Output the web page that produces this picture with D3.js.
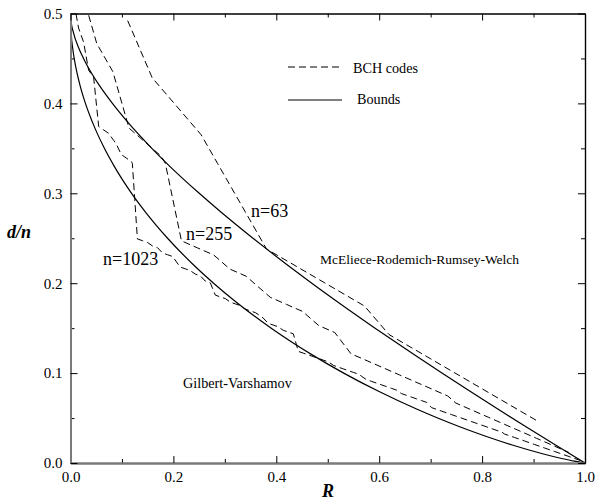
<!DOCTYPE html>
<html>
<head>
<meta charset="utf-8">
<script src="https://cdn.jsdelivr.net/npm/d3@7"></script>
<style>
  html, body { margin: 0; padding: 0; background: #fff; }
  svg { display: block; }
  text { font-family: "Liberation Serif", "Times New Roman", serif; fill: #000; }
</style>
</head>
<body>
<svg id="chart" width="596" height="500"></svg>
<script>
// Primitive narrow-sense BCH codes: error-correcting capability t and dimension k
const bch63N = 63;
const bch63T = [15, 13, 11, 10, 7, 6, 5, 4, 3, 2, 1];
const bch63K = [7, 10, 16, 18, 24, 30, 36, 39, 45, 51, 57];

const bch255N = 255;
const bch255T = [63, 59, 55, 47, 45, 43, 42, 31, 30, 29, 27, 26, 25, 23, 22, 21, 19, 18,
                 15, 14, 13, 12, 11, 10, 9, 8, 7, 6, 5, 4, 3, 2, 1];
const bch255K = [9, 13, 21, 29, 37, 45, 47, 55, 63, 71, 79, 87, 91, 99, 107, 115, 123, 131,
                 139, 147, 155, 163, 171, 179, 187, 191, 199, 207, 215, 223, 231, 239, 247];

const bch1023N = 1023;
const bch1023T = [255, 247, 239, 223, 219, 191, 189, 187, 183, 181, 175, 173, 171, 170,
                  127, 126, 125, 123, 122, 119, 118, 117, 115, 111, 110, 109, 107, 106, 103, 102,
                  95, 94, 93, 91, 90, 89, 87, 86, 85, 83, 82, 79, 78, 77, 75, 74, 73,
                  63, 62, 61, 60, 59, 58, 57, 55, 54, 53, 52, 51, 50, 49, 47, 46, 45, 44, 43, 42, 41,
                  39, 38, 37, 36, 35, 34,
                  31, 30, 29, 28, 27, 26, 25, 24, 23, 22, 21, 20, 19, 18, 17, 16,
                  15, 14, 13, 12, 11, 10, 9, 8, 7, 6, 5, 4, 3, 2, 1];
const bch1023K = [11, 16, 26, 36, 46, 56, 66, 76, 86, 91, 101, 111, 121, 123,
                  133, 143, 153, 163, 173, 183, 193, 203, 208, 218, 228, 238, 248, 258, 268, 278,
                  288, 298, 308, 318, 328, 338, 348, 358, 368, 378, 383, 393, 403, 413, 423, 433, 443,
                  453, 463, 473, 483, 493, 503, 513, 523, 533, 543, 553, 563, 573, 578, 588, 598, 608, 618, 628, 638, 648,
                  658, 668, 678, 688, 698, 708,
                  718, 728, 738, 748, 758, 768, 778, 788, 798, 808, 818, 828, 838, 848, 858, 863,
                  873, 883, 893, 903, 913, 923, 933, 943, 953, 963, 973, 983, 993, 1003, 1013];

// Gilbert-Varshamov bound (rate, relative distance)
const gvRate = [0, 0.0012, 0.0046, 0.0072, 0.0104, 0.0185, 0.029, 0.042, 0.0659, 0.0851,
                0.1187, 0.1446, 0.1887, 0.2398, 0.2781, 0.3199, 0.3902, 0.4706, 0.531, 0.5978,
                0.6726, 0.7136, 0.7577, 0.8056, 0.8586, 0.9192, 0.9546, 0.9792, 1];
const gvDist = [0.5, 0.48, 0.46, 0.45, 0.44, 0.42, 0.4, 0.38, 0.35, 0.33,
                0.3, 0.28, 0.25, 0.22, 0.2, 0.18, 0.15, 0.12, 0.1, 0.08,
                0.06, 0.05, 0.04, 0.03, 0.02, 0.01, 0.005, 0.002, 0];

// McEliece-Rodemich-Rumsey-Welch bound (rate, relative distance)
const mrrwRate = [0, 0.0015, 0.0051, 0.0172, 0.0253, 0.0345, 0.0561, 0.0815, 0.110, 0.1581,
                  0.193, 0.2502, 0.2906, 0.3546, 0.4222, 0.469, 0.5173, 0.592, 0.6691, 0.7219,
                  0.7758, 0.8305, 0.8861, 0.9427, 0.9713, 1];
const mrrwDist = [0.5, 0.49, 0.48, 0.46, 0.45, 0.44, 0.42, 0.4, 0.38, 0.35,
                  0.33, 0.3, 0.28, 0.25, 0.22, 0.2, 0.18, 0.15, 0.12, 0.1,
                  0.08, 0.06, 0.04, 0.02, 0.01, 0];

const xMajor = [0, 0.2, 0.4, 0.6, 0.8, 1.0];
const xMinor = [0.1, 0.3, 0.5, 0.7, 0.9];
const yMajor = [0, 0.1, 0.2, 0.3, 0.4, 0.5];
const yMinor = [0.05, 0.15, 0.25, 0.35, 0.45];

const svg = d3.select("#chart");
const plotLeft = 70.5, plotRight = 585, plotTop = 13.5, plotBottom = 463;

const x = d3.scaleLinear().domain([0, 1]).range([plotLeft, plotRight]);
const y = d3.scaleLinear().domain([0, 0.5]).range([plotBottom, plotTop]);

svg.append("defs").append("clipPath").attr("id", "plotArea")
  .append("rect").attr("x", plotLeft).attr("y", plotTop)
  .attr("width", plotRight - plotLeft).attr("height", plotBottom - plotTop);

// BCH code points: rate k/n against designed distance (2t+1)/n
function bchPoints(n, ts, ks) {
  return ts.map((t, i) => [ks[i] / n, (2 * t + 1) / n]);
}
function zipPoints(rs, ds) {
  return rs.map((r, i) => [r, ds[i]]);
}

const plot = svg.append("g").attr("clip-path", "url(#plotArea)");

const straight = d3.line().x(d => x(d[0])).y(d => y(d[1]));
const smooth = d3.line().x(d => x(d[0])).y(d => y(d[1])).curve(d3.curveMonotoneX);

[[bch63N, bch63T, bch63K], [bch255N, bch255T, bch255K], [bch1023N, bch1023T, bch1023K]]
  .forEach(([n, ts, ks]) => {
    plot.append("path")
      .attr("d", straight(bchPoints(n, ts, ks)))
      .attr("fill", "none").attr("stroke", "#000")
      .attr("stroke-width", 1).attr("stroke-dasharray", "7,4");
  });

[zipPoints(gvRate, gvDist), zipPoints(mrrwRate, mrrwDist)].forEach(pts => {
  plot.append("path")
    .attr("d", smooth(pts))
    .attr("fill", "none").attr("stroke", "#000").attr("stroke-width", 1.2);
});

// Axes with inward ticks on all four sides
function styleAxis(g, domainColor, domainWidth) {
  g.selectAll(".domain").attr("stroke", domainColor).attr("stroke-width", domainWidth);
  g.selectAll(".tick line").attr("stroke", "#000").attr("stroke-width", 1);
  g.selectAll(".tick text")
    .attr("font-family", "Liberation Serif, Times New Roman, serif")
    .attr("font-size", 15).attr("fill", "#000");
}

const fmt = d3.format(".1f");

// bottom
const gBottomMinor = svg.append("g").attr("transform", `translate(0,${plotBottom})`);
gBottomMinor.call(d3.axisBottom(x).tickValues(xMinor).tickSize(-4).tickSizeOuter(0).tickFormat(""));
const gBottom = svg.append("g").attr("transform", `translate(0,${plotBottom})`);
gBottom.call(d3.axisBottom(x).tickValues(xMajor).tickSize(-7).tickSizeOuter(0).tickPadding(8).tickFormat(fmt));
styleAxis(gBottomMinor, "#7a7a7a", 2);
styleAxis(gBottom, "#7a7a7a", 2);

// left
const gLeftMinor = svg.append("g").attr("transform", `translate(${plotLeft},0)`);
gLeftMinor.call(d3.axisLeft(y).tickValues(yMinor).tickSize(-4).tickSizeOuter(0).tickFormat(""));
const gLeft = svg.append("g").attr("transform", `translate(${plotLeft},0)`);
gLeft.call(d3.axisLeft(y).tickValues(yMajor).tickSize(-7).tickSizeOuter(0).tickPadding(8).tickFormat(fmt));
styleAxis(gLeftMinor, "#7a7a7a", 2);
styleAxis(gLeft, "#7a7a7a", 2);

// top
const gTopMinor = svg.append("g").attr("transform", `translate(0,${plotTop})`);
gTopMinor.call(d3.axisTop(x).tickValues(xMinor).tickSize(-4).tickSizeOuter(0).tickFormat(""));
const gTop = svg.append("g").attr("transform", `translate(0,${plotTop})`);
gTop.call(d3.axisTop(x).tickValues(xMajor).tickSize(-7).tickSizeOuter(0).tickFormat(""));
styleAxis(gTopMinor, "#000", 1.2);
styleAxis(gTop, "#000", 1.2);

// right
const gRightMinor = svg.append("g").attr("transform", `translate(${plotRight},0)`);
gRightMinor.call(d3.axisRight(y).tickValues(yMinor).tickSize(-4).tickSizeOuter(0).tickFormat(""));
const gRight = svg.append("g").attr("transform", `translate(${plotRight},0)`);
gRight.call(d3.axisRight(y).tickValues(yMajor).tickSize(-7).tickSizeOuter(0).tickFormat(""));
styleAxis(gRightMinor, "#000", 1.2);
styleAxis(gRight, "#000", 1.2);

// Axis titles
svg.append("text").attr("x", 7).attr("y", 238)
  .attr("font-size", 18).attr("font-weight", "bold").attr("font-style", "italic")
  .text("d/n");
svg.append("text").attr("x", 322).attr("y", 497)
  .attr("font-size", 18).attr("font-weight", "bold").attr("font-style", "italic")
  .text("R");

// Curve labels
const labels = [
  { text: "n=63", x: 251, y: 217, size: 18 },
  { text: "n=255", x: 186, y: 240, size: 18 },
  { text: "n=1023", x: 103, y: 265, size: 18 },
  { text: "McEliece-Rodemich-Rumsey-Welch", x: 320, y: 264, size: 13.5 },
  { text: "Gilbert-Varshamov", x: 183, y: 388, size: 14.2 }
];
labels.forEach(l => {
  svg.append("text").attr("x", l.x).attr("y", l.y).attr("font-size", l.size).text(l.text);
});

// Legend
const legend = svg.append("g");
legend.append("line").attr("x1", 288).attr("x2", 342).attr("y1", 67).attr("y2", 67)
  .attr("stroke", "#000").attr("stroke-width", 1).attr("stroke-dasharray", "7,4");
legend.append("text").attr("x", 353).attr("y", 73).attr("font-size", 14.2).text("BCH codes");
legend.append("line").attr("x1", 288).attr("x2", 342).attr("y1", 100).attr("y2", 100)
  .attr("stroke", "#000").attr("stroke-width", 1.2);
legend.append("text").attr("x", 357).attr("y", 104).attr("font-size", 14.2).text("Bounds");
</script>
</body>
</html>
